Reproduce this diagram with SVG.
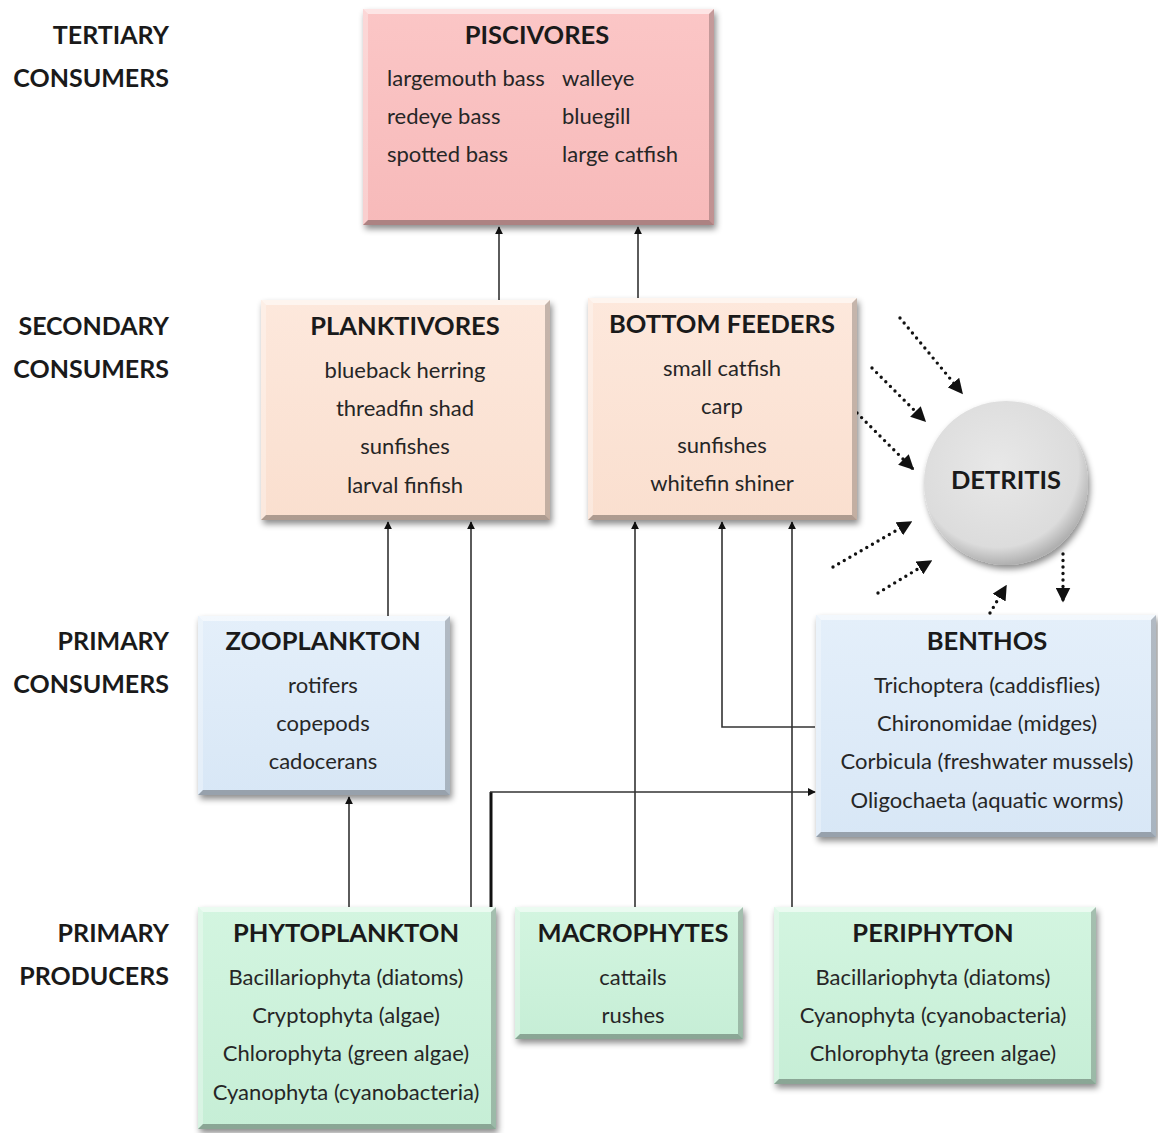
<svg xmlns="http://www.w3.org/2000/svg" width="1158" height="1133" viewBox="0 0 1158 1133">
<defs>
<style>
.lvl{font-family:Lato,"Liberation Sans",sans-serif;font-weight:bold;font-size:25px;fill:#1a1a1a;text-anchor:end}
.t{font-family:Lato,"Liberation Sans",sans-serif;font-weight:bold;font-size:25.5px;fill:#1a1a1a;text-anchor:middle}
.i{font-family:Lato,"Liberation Sans",sans-serif;font-size:22px;fill:#262626;text-anchor:middle}
.il{font-family:Lato,"Liberation Sans",sans-serif;font-size:22px;fill:#262626}
.hl{fill:#ffffff;opacity:0.55}
.hl2{fill:#ffffff;opacity:0.3}
.dk{fill:#000000;opacity:0.22}
.dk2{fill:#000000;opacity:0.3}
.c{fill:none;stroke:#333;stroke-width:1.6}
.d{fill:none;stroke:#111;stroke-width:3.4;stroke-linecap:round;stroke-dasharray:0 6.5}
</style>
<filter id="sh" x="-10%" y="-10%" width="125%" height="130%">
<feDropShadow dx="2" dy="4" stdDeviation="3" flood-color="#000" flood-opacity="0.45"/>
</filter>
<linearGradient id="gPink" x1="0" y1="0" x2="0" y2="1"><stop offset="0" stop-color="#fbc6c6"/><stop offset="1" stop-color="#f7baba"/></linearGradient>
<linearGradient id="gPeach" x1="0" y1="0" x2="0" y2="1"><stop offset="0" stop-color="#fde8dc"/><stop offset="1" stop-color="#fadfcf"/></linearGradient>
<linearGradient id="gBlue" x1="0" y1="0" x2="0" y2="1"><stop offset="0" stop-color="#e4effa"/><stop offset="1" stop-color="#d8e7f6"/></linearGradient>
<linearGradient id="gGreen" x1="0" y1="0" x2="0" y2="1"><stop offset="0" stop-color="#d3f5e0"/><stop offset="1" stop-color="#c6eed6"/></linearGradient>
<radialGradient id="gGray" cx="0.45" cy="0.4" r="0.6"><stop offset="0" stop-color="#e8e8e8"/><stop offset="0.82" stop-color="#dcdcdc"/><stop offset="1" stop-color="#b0b0b0"/></radialGradient>
<marker id="a" viewBox="0 0 10 10" refX="9" refY="5" markerWidth="8" markerHeight="8" markerUnits="userSpaceOnUse" orient="auto"><path d="M0,0 L10,5 L0,10 z" fill="#111"/></marker>
<marker id="ad" viewBox="0 0 10 10" refX="9" refY="5" markerWidth="15" markerHeight="15" markerUnits="userSpaceOnUse" orient="auto"><path d="M0,0 L10,5 L0,10 z" fill="#111"/></marker>
</defs>
<rect width="1158" height="1133" fill="#ffffff"/>

<g id="levels">
<text class="lvl" x="169" y="44">TERTIARY</text>
<text class="lvl" x="169" y="87">CONSUMERS</text>
<text class="lvl" x="169" y="335">SECONDARY</text>
<text class="lvl" x="169" y="378">CONSUMERS</text>
<text class="lvl" x="169" y="650">PRIMARY</text>
<text class="lvl" x="169" y="693">CONSUMERS</text>
<text class="lvl" x="169" y="942">PRIMARY</text>
<text class="lvl" x="169" y="985">PRODUCERS</text>
</g>

<g id="connectors">
<line class="c" x1="499" y1="300" x2="499" y2="227" marker-end="url(#a)"/>
<line class="c" x1="638" y1="298" x2="638" y2="227" marker-end="url(#a)"/>
<line class="c" x1="388" y1="616" x2="388" y2="522" marker-end="url(#a)"/>
<line class="c" x1="471" y1="907" x2="471" y2="522" marker-end="url(#a)"/>
<line class="c" x1="349" y1="907" x2="349" y2="797" marker-end="url(#a)"/>
<line class="c" x1="635" y1="907" x2="635" y2="522" marker-end="url(#a)"/>
<line class="c" x1="792" y1="907" x2="792" y2="522" marker-end="url(#a)"/>
<polyline class="c" points="815,727 722,727 722,522" marker-end="url(#a)"/>
<line x1="491" y1="907" x2="491" y2="792" stroke="#111" stroke-width="3"/>
<line class="c" x1="490" y1="792" x2="815" y2="792" marker-end="url(#a)" stroke="#111"/>
<line class="d" x1="900" y1="318" x2="962" y2="393" marker-end="url(#ad)"/>
<line class="d" x1="872" y1="368" x2="925" y2="421" marker-end="url(#ad)"/>
<line class="d" x1="857" y1="413" x2="913" y2="469" marker-end="url(#ad)"/>
<line class="d" x1="833" y1="567" x2="911" y2="522" marker-end="url(#ad)"/>
<line class="d" x1="878" y1="593" x2="931" y2="561" marker-end="url(#ad)"/>
<line class="d" x1="990" y1="613" x2="1006" y2="586" marker-end="url(#ad)"/>
<line class="d" x1="1063" y1="554" x2="1063" y2="601" marker-end="url(#ad)"/>
</g>

<g id="piscivores">
<rect x="363" y="9" width="351" height="216" fill="url(#gPink)" filter="url(#sh)"/>
<polygon class="hl" points="363,9 714,9 709,14 368,14"/>
<polygon class="hl2" points="363,9 368,14 368,220 363,225"/>
<polygon class="dk" points="714,9 714,225 709,220 709,14"/>
<polygon class="dk2" points="363,225 714,225 709,220 368,220"/>
<text class="t" x="537" y="44">PISCIVORES</text>
<text class="il" x="387" y="86">largemouth bass</text>
<text class="il" x="387" y="124">redeye bass</text>
<text class="il" x="387" y="162">spotted bass</text>
<text class="il" x="562" y="86">walleye</text>
<text class="il" x="562" y="124">bluegill</text>
<text class="il" x="562" y="162">large catfish</text>
</g>

<g id="planktivores">
<rect x="261" y="300" width="289" height="220" fill="url(#gPeach)" filter="url(#sh)"/>
<polygon class="hl" points="261,300 550,300 545,305 266,305"/>
<polygon class="hl2" points="261,300 266,305 266,515 261,520"/>
<polygon class="dk" points="550,300 550,520 545,515 545,305"/>
<polygon class="dk2" points="261,520 550,520 545,515 266,515"/>
<text class="t" x="405" y="335">PLANKTIVORES</text>
<text class="i" x="405" y="378">blueback herring</text>
<text class="i" x="405" y="416">threadfin  shad</text>
<text class="i" x="405" y="454">sunfishes</text>
<text class="i" x="405" y="493">larval finfish</text>
</g>

<g id="bottom-feeders">
<rect x="588" y="298" width="269" height="222" fill="url(#gPeach)" filter="url(#sh)"/>
<polygon class="hl" points="588,298 857,298 852,303 593,303"/>
<polygon class="hl2" points="588,298 593,303 593,515 588,520"/>
<polygon class="dk" points="857,298 857,520 852,515 852,303"/>
<polygon class="dk2" points="588,520 857,520 852,515 593,515"/>
<text class="t" x="722" y="333">BOTTOM FEEDERS</text>
<text class="i" x="722" y="376">small catfish</text>
<text class="i" x="722" y="414">carp</text>
<text class="i" x="722" y="453">sunfishes</text>
<text class="i" x="722" y="491">whitefin shiner</text>
</g>

<g id="detritis">
<circle cx="1006" cy="483" r="82" fill="url(#gGray)" filter="url(#sh)"/>
<text class="t" x="1006" y="489">DETRITIS</text>
</g>

<g id="zooplankton">
<rect x="198" y="616" width="252" height="179" fill="url(#gBlue)" filter="url(#sh)"/>
<polygon class="hl" points="198,616 450,616 445,621 203,621"/>
<polygon class="hl2" points="198,616 203,621 203,790 198,795"/>
<polygon class="dk" points="450,616 450,795 445,790 445,621"/>
<polygon class="dk2" points="198,795 450,795 445,790 203,790"/>
<text class="t" x="323" y="650">ZOOPLANKTON</text>
<text class="i" x="323" y="693">rotifers</text>
<text class="i" x="323" y="731">copepods</text>
<text class="i" x="323" y="769">cadocerans</text>
</g>

<g id="benthos">
<rect x="816" y="615" width="340" height="222" fill="url(#gBlue)" filter="url(#sh)"/>
<polygon class="hl" points="816,615 1156,615 1151,620 821,620"/>
<polygon class="hl2" points="816,615 821,620 821,832 816,837"/>
<polygon class="dk" points="1156,615 1156,837 1151,832 1151,620"/>
<polygon class="dk2" points="816,837 1156,837 1151,832 821,832"/>
<text class="t" x="987" y="650">BENTHOS</text>
<text class="i" x="987" y="693">Trichoptera (caddisflies)</text>
<text class="i" x="987" y="731">Chironomidae (midges)</text>
<text class="i" x="987" y="769">Corbicula (freshwater mussels)</text>
<text class="i" x="987" y="808">Oligochaeta (aquatic worms)</text>
</g>

<g id="phytoplankton">
<rect x="198" y="907" width="298" height="222" fill="url(#gGreen)" filter="url(#sh)"/>
<polygon class="hl" points="198,907 496,907 491,912 203,912"/>
<polygon class="hl2" points="198,907 203,912 203,1124 198,1129"/>
<polygon class="dk" points="496,907 496,1129 491,1124 491,912"/>
<polygon class="dk2" points="198,1129 496,1129 491,1124 203,1124"/>
<text class="t" x="346" y="942">PHYTOPLANKTON</text>
<text class="i" x="346" y="985">Bacillariophyta (diatoms)</text>
<text class="i" x="346" y="1023">Cryptophyta (algae)</text>
<text class="i" x="346" y="1061">Chlorophyta (green algae)</text>
<text class="i" x="346" y="1100">Cyanophyta (cyanobacteria)</text>
</g>

<g id="macrophytes">
<rect x="515" y="907" width="228" height="132" fill="url(#gGreen)" filter="url(#sh)"/>
<polygon class="hl" points="515,907 743,907 738,912 520,912"/>
<polygon class="hl2" points="515,907 520,912 520,1034 515,1039"/>
<polygon class="dk" points="743,907 743,1039 738,1034 738,912"/>
<polygon class="dk2" points="515,1039 743,1039 738,1034 520,1034"/>
<text class="t" x="633" y="942">MACROPHYTES</text>
<text class="i" x="633" y="985">cattails</text>
<text class="i" x="633" y="1023">rushes</text>
</g>

<g id="periphyton">
<rect x="774" y="907" width="322" height="177" fill="url(#gGreen)" filter="url(#sh)"/>
<polygon class="hl" points="774,907 1096,907 1091,912 779,912"/>
<polygon class="hl2" points="774,907 779,912 779,1079 774,1084"/>
<polygon class="dk" points="1096,907 1096,1084 1091,1079 1091,912"/>
<polygon class="dk2" points="774,1084 1096,1084 1091,1079 779,1079"/>
<text class="t" x="933" y="942">PERIPHYTON</text>
<text class="i" x="933" y="985">Bacillariophyta (diatoms)</text>
<text class="i" x="933" y="1023">Cyanophyta (cyanobacteria)</text>
<text class="i" x="933" y="1061">Chlorophyta (green algae)</text>
</g>
</svg>
